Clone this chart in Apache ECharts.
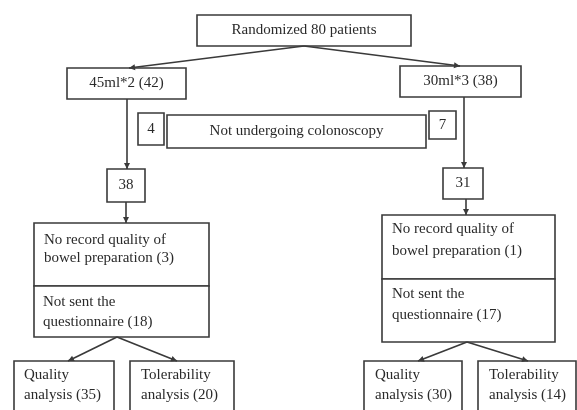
<!DOCTYPE html>
<html>
<head>
<meta charset="utf-8">
<script src="https://cdn.jsdelivr.net/npm/echarts@6/dist/echarts.min.js"></script>
<style>html,body{margin:0;padding:0;background:#fff}#chart{width:577px;height:410px}</style>
</head>
<body>
<div id="chart"></div>
<script>
// ---- Data (counts) ----
const totalPatients = 80;
const groupNames = ['45ml*2', '30ml*3'];
const groupCounts = [42, 38];
const notUndergoingCounts = [4, 7];
const underwentCounts = [38, 31];
const noRecordCounts = [3, 1];
const notSentCounts = [18, 17];
const qualityCounts = [35, 30];
const tolerabilityCounts = [20, 14];

// ---- Layout (pixel geometry of the diagram) ----
const FONT = '15px "Liberation Serif", "Times New Roman", serif';
const STROKE = '#3a3a3a';
const TEXT = '#2a2a2a';
const LW = 1.6;

const L = {
  top: [197, 15, 214, 31],
  group: [[67, 68, 119, 31], [400, 66, 121, 31]],
  excl: [[138, 113, 26, 32], [429, 111, 27, 28]],
  notUnder: [167, 115, 259, 33],
  under: [[107, 169, 38, 33], [443, 168, 40, 31]],
  noRec: [[34, 223, 175, 63], [382, 215, 173, 64]],
  notSent: [[34, 286, 175, 51], [382, 279, 173, 63]],
  quality: [[14, 361, 100, 60], [364, 361, 98, 60]],
  toler: [[130, 361, 104, 60], [478, 361, 98, 60]]
};

const els = [];
function box(r) {
  els.push({ type: 'rect', shape: { x: r[0], y: r[1], width: r[2], height: r[3] },
    style: { fill: '#fff', stroke: STROKE, lineWidth: LW }, z: 1 });
}
function ctext(r, t) {
  els.push({ type: 'text', z: 3, style: { text: t, x: r[0] + r[2] / 2, y: r[1] + r[3] / 2,
    align: 'center', verticalAlign: 'middle', font: FONT, fill: TEXT } });
}
function ltext(x, y, t) {
  els.push({ type: 'text', z: 3, style: { text: t, x: x, y: y, align: 'left', verticalAlign: 'middle',
    font: FONT, fill: TEXT, lineHeight: 20 } });
}
function arrow(x1, y1, x2, y2) {
  els.push({ type: 'line', z: 2, shape: { x1: x1, y1: y1, x2: x2, y2: y2 },
    style: { stroke: STROKE, lineWidth: LW } });
  const a = Math.atan2(y2 - y1, x2 - x1), s = 6, w = 3;
  const bx = x2 - s * Math.cos(a), by = y2 - s * Math.sin(a);
  els.push({ type: 'polygon', z: 2, shape: { points: [[x2, y2],
    [bx + w * Math.sin(a), by - w * Math.cos(a)], [bx - w * Math.sin(a), by + w * Math.cos(a)]] },
    style: { fill: STROKE } });
}

// top
box(L.top); ctext(L.top, 'Randomized ' + totalPatients + ' patients');
arrow(304, 46, 129, 68);
arrow(304, 46, 460, 66);
// groups
for (let i = 0; i < 2; i++) {
  box(L.group[i]); ctext(L.group[i], groupNames[i] + ' (' + groupCounts[i] + ')');
  box(L.excl[i]); ctext(L.excl[i], String(notUndergoingCounts[i]));
  box(L.under[i]); ctext(L.under[i], String(underwentCounts[i]));
  box(L.noRec[i]); box(L.notSent[i]);
  box(L.quality[i]); box(L.toler[i]);
}
box(L.notUnder); ctext(L.notUnder, 'Not undergoing colonoscopy');
arrow(127, 99, 127, 169);
arrow(464, 97, 464, 168);
arrow(126, 202, 126, 223);
arrow(466, 199, 466, 215);

ltext(44, 240, 'No record quality of');
ltext(44, 258, 'bowel preparation (' + noRecordCounts[0] + ')');
ltext(43, 302, 'Not sent the');
ltext(43, 322, 'questionnaire (' + notSentCounts[0] + ')');
ltext(392, 229, 'No record quality of');
ltext(392, 251, 'bowel preparation (' + noRecordCounts[1] + ')');
ltext(392, 294, 'Not sent the');
ltext(392, 315, 'questionnaire (' + notSentCounts[1] + ')');

arrow(117, 337, 68, 361);
arrow(117, 337, 177, 361);
arrow(467, 342, 418, 361);
arrow(467, 342, 528, 361);

ltext(24, 375, 'Quality');
ltext(24, 395, 'analysis (' + qualityCounts[0] + ')');
ltext(141, 375, 'Tolerability');
ltext(141, 395, 'analysis (' + tolerabilityCounts[0] + ')');
ltext(375, 375, 'Quality');
ltext(375, 395, 'analysis (' + qualityCounts[1] + ')');
ltext(489, 375, 'Tolerability');
ltext(489, 395, 'analysis (' + tolerabilityCounts[1] + ')');

const chart = echarts.init(document.getElementById('chart'), null, { renderer: 'canvas' });
chart.setOption({ backgroundColor: '#fff', animation: false, graphic: { elements: els } });
</script>
</body>
</html>
